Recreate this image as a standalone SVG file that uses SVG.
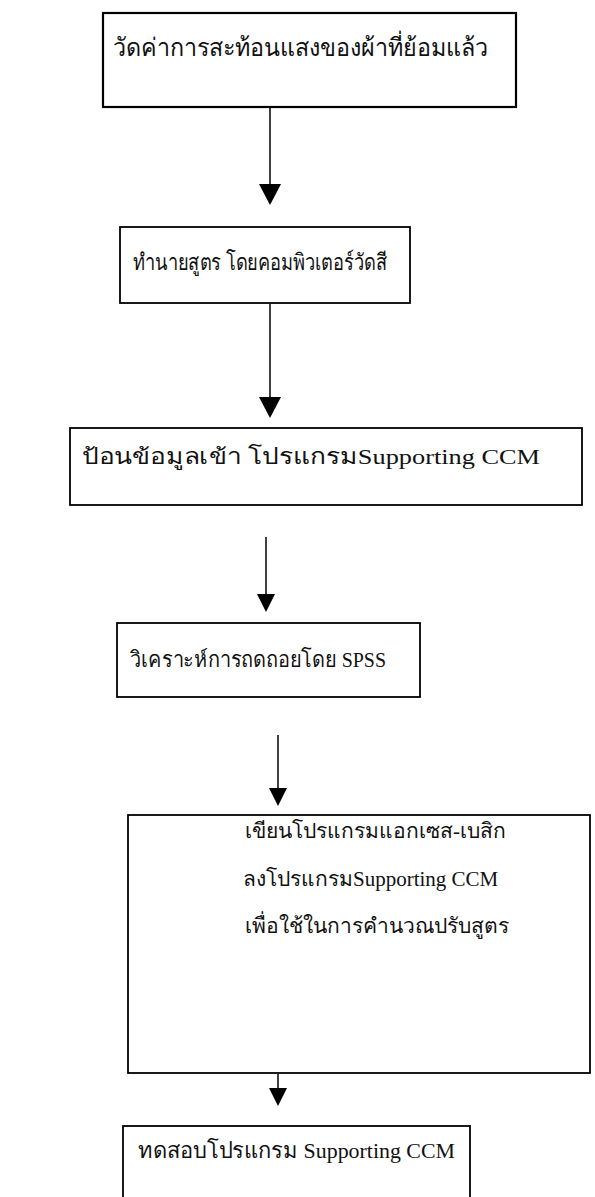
<svg xmlns="http://www.w3.org/2000/svg" width="595" height="1197" viewBox="0 0 595 1197">
<style>
.box{fill:#fff;stroke:#000;stroke-width:1.8}
.s{font-family:"Liberation Sans",sans-serif;font-size:25px;fill:#111}
.r{font-family:"Liberation Serif",serif;font-size:22px;fill:#111}
.ln{stroke:#000;stroke-width:1.5;fill:none}
.hd{fill:#000}
</style>
<rect width="595" height="1197" fill="#fff"/>
<g id="connectors">
<line class="ln" x1="270" y1="107" x2="270" y2="186"/><polygon class="hd" points="259,184 281,184 270,205"/>
<line class="ln" x1="270" y1="304" x2="270" y2="399"/><polygon class="hd" points="259,397 281,397 270,418"/>
<line class="ln" x1="266" y1="537" x2="266" y2="596"/><polygon class="hd" points="257,594 275,594 266,612"/>
<line class="ln" x1="278" y1="735" x2="278" y2="790"/><polygon class="hd" points="269,788 287,788 278,806"/>
<line class="ln" x1="278" y1="1074" x2="278" y2="1090"/><polygon class="hd" points="269,1088 287,1088 278,1106"/>
</g>
<g id="n1"><rect class="box" style="stroke-width:2.2" x="103" y="13" width="413" height="94"/><text class="s" x="113" y="56" textLength="375" lengthAdjust="spacingAndGlyphs">วัดค่าการสะท้อนแสงของผ้าที่ย้อมแล้ว</text></g>
<g id="n2"><rect class="box" x="120" y="227" width="290" height="76"/><text class="s" x="133" y="270" style="font-size:23px" textLength="254" lengthAdjust="spacingAndGlyphs">ทำนายสูตร โดยคอมพิวเตอร์วัดสี</text></g>
<g id="n3"><rect class="box" x="70" y="428" width="512" height="77"/><text class="r" x="82" y="464" textLength="458" lengthAdjust="spacingAndGlyphs">ป้อนข้อมูลเข้า โปรแกรมSupporting CCM</text></g>
<g id="n4"><rect class="box" x="117" y="623" width="303" height="74"/><text class="r" x="130" y="667" textLength="256" lengthAdjust="spacingAndGlyphs">วิเคราะห์การถดถอยโดย SPSS</text></g>
<g id="n5"><rect class="box" x="128" y="815" width="462" height="258"/>
<text class="r" x="245" y="838" style="font-size:21px">เขียนโปรแกรมแอกเซส-เบสิก</text>
<text class="r" x="243" y="886" style="font-size:21px">ลงโปรแกรมSupporting CCM</text>
<text class="r" x="245" y="933" style="font-size:21px">เพื่อใช้ในการคำนวณปรับสูตร</text></g>
<g id="n6"><rect class="box" x="123" y="1126" width="347" height="90"/><text class="r" x="138" y="1158" textLength="317" lengthAdjust="spacingAndGlyphs">ทดสอบโปรแกรม  Supporting CCM</text></g>
</svg>
